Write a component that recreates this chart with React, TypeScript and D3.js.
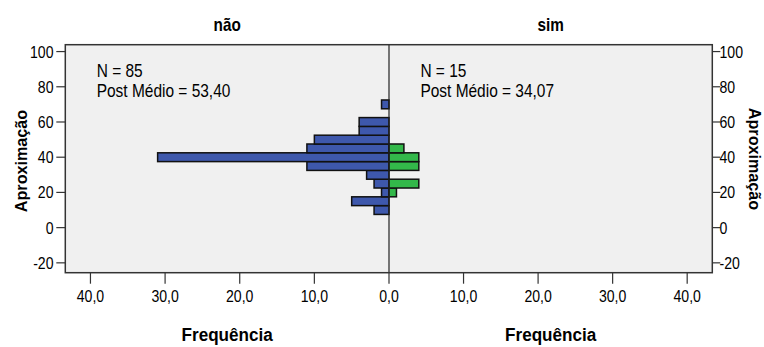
import React from "react";
import * as d3 from "d3";

const binStarts = [7.5, 12.5, 17.5, 22.5, 27.5, 32.5, 37.5, 42.5, 47.5, 52.5, 57.5, 62.5, 67.5];
const binWidth = 5;
const naoCounts = [2, 5, 1, 2, 3, 11, 31, 11, 10, 4, 4, 0, 1];
const simCounts = [0, 0, 1, 4, 0, 4, 4, 2, 0, 0, 0, 0, 0];
const yTicks = [-20, 0, 20, 40, 60, 80, 100];
const xTicks = [0, 10, 20, 30, 40];
const panelTitles = ["não", "sim"];
const nLabels = ["N = 85", "N = 15"];
const meanLabels = ["Post Médio = 53,40", "Post Médio = 34,07"];
const yTitle = "Aproximação";
const xTitle = "Frequência";

const W = 764, H = 347;
const left = 65.3, right = 712.3, top = 44.7, bottom = 272.7, mid = 389;
const FONT = "'Liberation Sans', Arial, sans-serif";
const BLUE = "#3e58ac";
const GREEN = "#33b84a";

const fmt = (v: number) => v.toFixed(1).replace(".", ",");

function T({ x, y, sx = 0.88, size = 16, weight = "normal", anchor = "start", rot = 0, children }: any) {
  return (
    <text
      transform={`translate(${x},${y}) rotate(${rot}) scale(${sx},1)`}
      fontFamily={FONT}
      fontSize={size}
      fontWeight={weight}
      textAnchor={anchor}
      fill="#000"
    >
      {children}
    </text>
  );
}

export default function App() {
  const y = d3.scaleLinear().domain([-25.6, 103.9]).range([bottom, top]);
  const xL = d3.scaleLinear().domain([0, 43.37]).range([mid, left]);
  const xR = d3.scaleLinear().domain([0, 43.37]).range([mid, right]);
  const panels = [
    { x: xL, counts: naoCounts, color: BLUE, cx: (left + mid) / 2, x0: left },
    { x: xR, counts: simCounts, color: GREEN, cx: (mid + right) / 2, x0: mid },
  ];
  return (
    <svg width={W} height={H} style={{ position: "absolute", left: 0, top: 0, background: "#fff" }}>
      <rect x={left} y={top} width={right - left} height={bottom - top} fill="#f0f0f0" />
      {panels.map((p, pi) => (
        <g key={pi}>
          {p.counts.map((c, i) =>
            c > 0 ? (
              <rect
                key={i}
                x={Math.min(p.x(0), p.x(c))}
                y={y(binStarts[i] + binWidth)}
                width={Math.abs(p.x(c) - p.x(0))}
                height={y(binStarts[i]) - y(binStarts[i] + binWidth)}
                fill={p.color}
                stroke="#111"
                strokeWidth={1.5}
              />
            ) : null
          )}
          {xTicks.map((t) =>
            pi === 1 && t === 0 ? null : (
              <g key={t}>
                <line x1={p.x(t)} x2={p.x(t)} y1={bottom} y2={bottom + 11} stroke="#333" strokeWidth={1.2} />
                <T x={p.x(t)} y={302.3} anchor="middle">{fmt(t)}</T>
              </g>
            )
          )}
          <T x={p.cx} y={30.7} size={18} sx={0.85} weight="bold" anchor="middle">{panelTitles[pi]}</T>
          <T x={p.x0 + 31.4} y={77.3} size={18} sx={0.86}>{nLabels[pi]}</T>
          <T x={p.x0 + 31.4} y={97.3} size={18} sx={0.86}>{meanLabels[pi]}</T>
          <T x={p.cx} y={340.5} size={19} sx={0.9} weight="bold" anchor="middle">{xTitle}</T>
        </g>
      ))}
      <line x1={mid} x2={mid} y1={top} y2={bottom} stroke="#222" strokeWidth={1.2} />
      <rect x={left} y={top} width={right - left} height={bottom - top} fill="none" stroke="#333" strokeWidth={1.5} />
      {yTicks.map((t) => (
        <g key={t}>
          <line x1={left - 9} x2={left} y1={y(t)} y2={y(t)} stroke="#333" strokeWidth={1.2} />
          <T x={53.5} y={y(t) + 6} anchor="end">{String(t)}</T>
          <line x1={right} x2={right + 8} y1={y(t)} y2={y(t)} stroke="#333" strokeWidth={1.2} />
          <T x={719.5} y={y(t) + 6}>{String(t)}</T>
        </g>
      ))}
      <T x={27} y={161} rot={-90} size={17} sx={0.95} weight="bold" anchor="middle">{yTitle}</T>
      <T x={748.5} y={159} rot={90} size={17} sx={0.95} weight="bold" anchor="middle">{yTitle}</T>
    </svg>
  );
}
